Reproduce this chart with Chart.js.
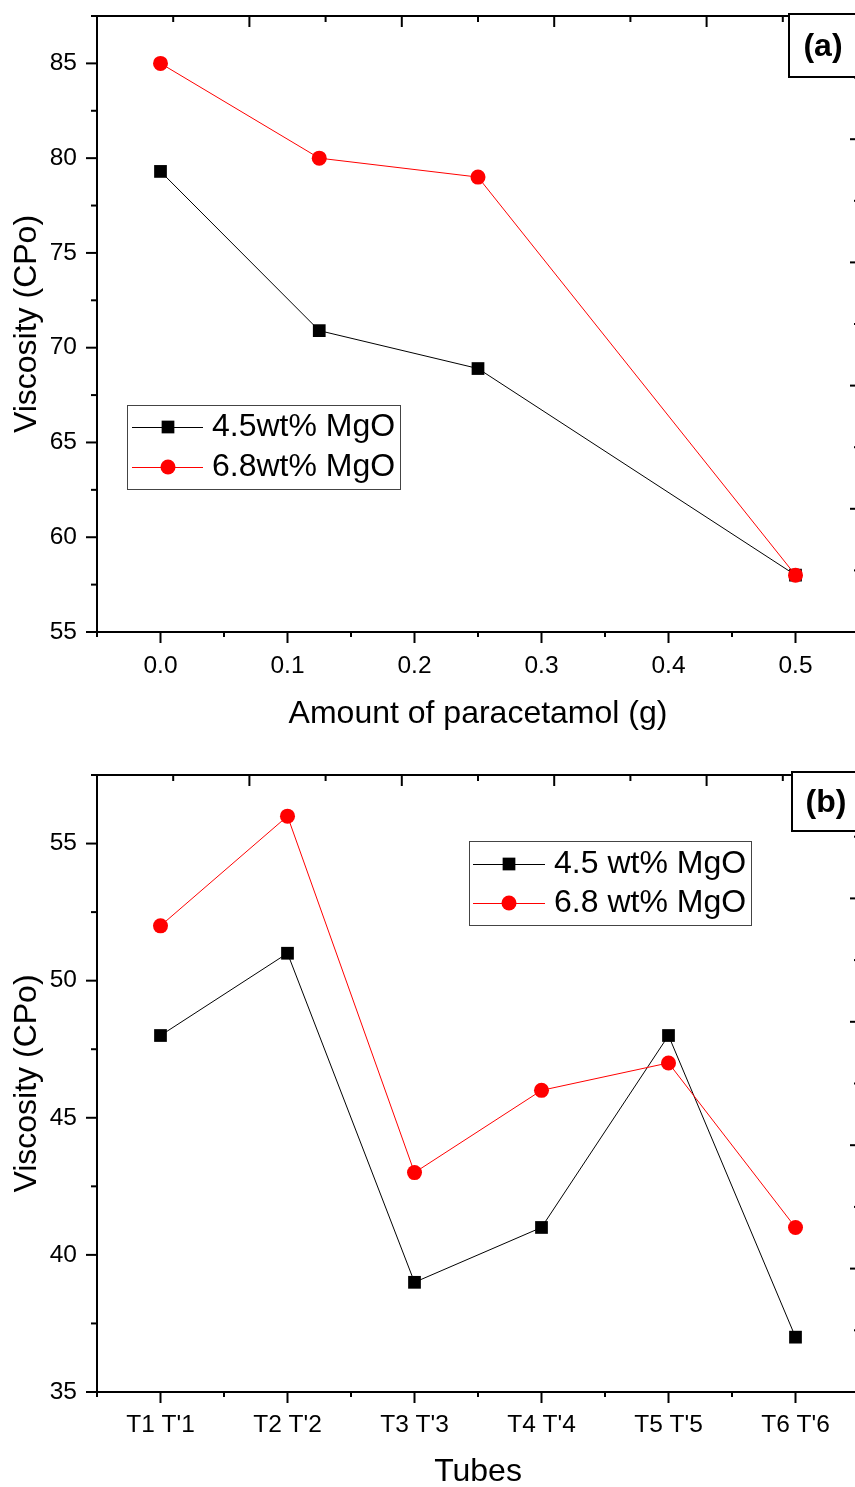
<!DOCTYPE html>
<html>
<head>
<meta charset="utf-8">
<script src="https://cdn.jsdelivr.net/npm/chart.js@4.4.1/dist/chart.umd.min.js"></script>
<style>
  html, body { margin: 0; padding: 0; background: #fff; }
  #page { width: 855px; height: 1487px; overflow: hidden; position: relative; }
  .box { position: absolute; left: 0; width: 900px; }
  #boxA { top: 0; height: 740px; }
  #boxB { top: 740px; height: 747px; }
</style>
</head>
<body>
<div id="page">
  <div class="box" id="boxA"><canvas id="chartA"></canvas></div>
  <div class="box" id="boxB"><canvas id="chartB"></canvas></div>
</div>
<script>
// (a) viscosity vs amount of paracetamol
const paracetamol = [0, 0.125, 0.25, 0.5];
const viscA45 = [79.3, 70.9, 68.9, 58.0];
const viscA68 = [85.0, 80.0, 79.0, 58.0];
const xTicksA = [0, 0.1, 0.2, 0.3, 0.4, 0.5];
const yTicksA = [55, 60, 65, 70, 75, 80, 85];

// (b) viscosity per tube
const tubes = ["T1 T'1", "T2 T'2", "T3 T'3", "T4 T'4", "T5 T'5", "T6 T'6"];
const viscB45 = [48, 51, 39, 41, 48, 37];
const viscB68 = [52, 56, 43, 46, 47, 41];
const yTicksB = [35, 40, 45, 50, 55];

const FONT = "'Liberation Sans', Arial, sans-serif";
Chart.defaults.font.family = FONT;
Chart.defaults.color = '#000';

const tickFont = { size: 24.5 };
const titleFont = { size: 32, lineHeight: 1 };

// frame + inward/outward tick marks (minor ticks too)
const framePlugin = {
  id: 'frame',
  afterDraw(chart, args, opts) {
    const { ctx, chartArea: a, scales } = chart;
    ctx.save();
    ctx.strokeStyle = '#000';
    ctx.lineWidth = 2;
    ctx.strokeRect(a.left, a.top, a.right - a.left, a.bottom - a.top);
    const line = (x1, y1, x2, y2) => { ctx.beginPath(); ctx.moveTo(x1, y1); ctx.lineTo(x2, y2); ctx.stroke(); };
    const steps = (from, to, step) => {
      const out = [];
      const n = Math.round((to - from) / step);
      for (let i = 0; i <= n; i++) out.push(from + i * step);
      return out;
    };
    const isMajor = (v, m) => Math.abs(v / m - Math.round(v / m)) < 1e-6;

    // left
    steps(opts.y.min, opts.y.max, opts.y.minor).forEach(v => {
      const p = scales.y.getPixelForValue(v);
      const len = isMajor(v, opts.y.major) ? 11 : 6;
      line(a.left - len, p, a.left, p);
    });
    // bottom
    steps(opts.x.min, opts.x.max, opts.x.minor).forEach(v => {
      const p = scales.x.getPixelForValue(v);
      const len = isMajor(v, opts.x.major) ? 11 : 5;
      line(p, a.bottom, p, a.bottom + len);
    });
    // top (inward)
    steps(0, 10, 1).forEach(v => {
      const p = scales.x2.getPixelForValue(v);
      const len = v % 2 === 0 ? 11 : 6;
      line(p, a.top, p, a.top + len);
    });
    // right (inward)
    steps(0, 10, 1).forEach(v => {
      const p = scales.y2.getPixelForValue(v);
      const len = v % 2 === 0 ? 9 : 5;
      line(a.right - len, p, a.right, p);
    });
    ctx.restore();
  }
};

const legendPlugin = {
  id: 'boxLegend',
  afterDraw(chart, args, o) {
    const { ctx } = chart;
    ctx.save();
    ctx.strokeStyle = '#444';
    ctx.lineWidth = 1;
    ctx.strokeRect(o.x + 0.5, o.y + 0.5, o.w, o.h);
    chart.data.datasets.forEach((ds, i) => {
      const y = o.rows[i];
      ctx.strokeStyle = ds.borderColor;
      ctx.lineWidth = 1;
      ctx.beginPath(); ctx.moveTo(o.lineFrom, y + 0.5); ctx.lineTo(o.lineTo, y + 0.5); ctx.stroke();
      ctx.fillStyle = ds.pointBackgroundColor;
      Chart.helpers.drawPoint(ctx, { pointStyle: ds.pointStyle, radius: ds.pointRadius, borderWidth: 0, rotation: 0 }, o.markX, y);
      ctx.fillStyle = '#000';
      ctx.font = `32px ${FONT}`;
      ctx.textAlign = 'left';
      ctx.textBaseline = 'middle';
      ctx.fillText(ds.label, o.textX, y);
    });
    ctx.restore();
  }
};

const panelPlugin = {
  id: 'panelTag',
  afterDraw(chart, args, o) {
    const { ctx } = chart;
    ctx.save();
    ctx.fillStyle = '#fff';
    ctx.fillRect(o.x, o.y, 120, o.h);
    ctx.strokeStyle = '#000';
    ctx.lineWidth = 2;
    ctx.strokeRect(o.x, o.y, 120, o.h);
    ctx.fillStyle = '#000';
    ctx.font = `bold 32px ${FONT}`;
    ctx.textAlign = 'center';
    ctx.textBaseline = 'alphabetic';
    ctx.fillText(o.text, o.cx, o.base);
    ctx.restore();
  }
};

function series(label, data, color, style, radius, order) {
  return {
    label, data, order,
    borderColor: color, borderWidth: 1,
    pointStyle: style, pointRadius: radius, pointHoverRadius: radius,
    pointBackgroundColor: color, pointBorderColor: color, pointBorderWidth: 0,
    tension: 0, fill: false
  };
}

function hiddenScales() {
  return {
    x2: { type: 'linear', position: 'top', display: false, min: 0, max: 10 },
    y2: { type: 'linear', position: 'right', display: false, min: 0, max: 10 }
  };
}

function fixY(s) {
  s.width = 97;
  s.paddingTop = 0;
  s.paddingBottom = 0;
}

new Chart(document.getElementById('chartA'), {
  type: 'line',
  data: {
    datasets: [
      series('4.5wt% MgO', paracetamol.map((x, i) => ({ x, y: viscA45[i] })), '#000000', 'rect', 9, 1),
      series('6.8wt% MgO', paracetamol.map((x, i) => ({ x, y: viscA68[i] })), '#ff0000', 'circle', 7.5, 0)
    ]
  },
  options: {
    responsive: true,
    maintainAspectRatio: false,
    animation: false,
    layout: { padding: { top: 16, right: 41, left: 0, bottom: 0 } },
    plugins: {
      legend: { display: false },
      tooltip: { enabled: false },
      frame: { y: { min: 55, max: 87.5, minor: 2.5, major: 5 }, x: { min: -0.05, max: 0.55, minor: 0.05, major: 0.1 } },
      boxLegend: { x: 127, y: 405, w: 273, h: 84, rows: [427, 467], lineFrom: 132, lineTo: 203, markX: 168, textX: 212 },
      panelTag: { x: 789, y: 14, h: 63, text: '(a)', cx: 823, base: 56 }
    },
    scales: {
      x: {
        type: 'linear', position: 'bottom', min: -0.05, max: 0.55,
        afterBuildTicks: s => { s.ticks = xTicksA.map(v => ({ value: v })); },
        afterFit: s => { s.height = 740 - 632; },
        grid: { display: false, drawTicks: false }, border: { display: false },
        ticks: { font: tickFont, padding: 20, maxRotation: 0, autoSkip: false, callback: v => v.toFixed(1) },
        title: { display: true, text: 'Amount of paracetamol (g)', font: titleFont, padding: { top: 0, bottom: 10 } }
      },
      y: {
        type: 'linear', position: 'left', min: 55, max: 87.5,
        afterBuildTicks: s => { s.ticks = yTicksA.map(v => ({ value: v })); },
        afterFit: fixY,
        grid: { display: false, drawTicks: false }, border: { display: false },
        ticks: { font: tickFont, padding: 20 },
        title: { display: true, text: 'Viscosity (CPo)', font: titleFont, padding: { top: 11, bottom: 0 } }
      },
      ...hiddenScales()
    }
  },
  plugins: [framePlugin, legendPlugin, panelPlugin]
});

new Chart(document.getElementById('chartB'), {
  type: 'line',
  data: {
    labels: tubes,
    datasets: [
      series('4.5 wt% MgO', viscB45, '#000000', 'rect', 9, 1),
      series('6.8 wt% MgO', viscB68, '#ff0000', 'circle', 7.5, 0)
    ]
  },
  options: {
    responsive: true,
    maintainAspectRatio: false,
    animation: false,
    layout: { padding: { top: 35, right: 41, left: 0, bottom: 0 } },
    plugins: {
      legend: { display: false },
      tooltip: { enabled: false },
      frame: { y: { min: 35, max: 57.5, minor: 2.5, major: 5 }, x: { min: -0.5, max: 5.5, minor: 0.5, major: 1 } },
      boxLegend: { x: 469, y: 101, w: 282, h: 84, rows: [124, 163], lineFrom: 473, lineTo: 545, markX: 509, textX: 554 },
      panelTag: { x: 792, y: 32, h: 59, text: '(b)', cx: 826, base: 72 }
    },
    scales: {
      x: {
        type: 'category', position: 'bottom', offset: true,
        afterFit: s => { s.height = 747 - 652; },
        grid: { display: false, drawTicks: false, offset: true }, border: { display: false },
        ticks: { font: tickFont, padding: 19, maxRotation: 0, autoSkip: false },
        title: { display: true, text: 'Tubes', font: titleFont, padding: { top: 0, bottom: -1 } }
      },
      y: {
        type: 'linear', position: 'left', min: 35, max: 57.5,
        afterBuildTicks: s => { s.ticks = yTicksB.map(v => ({ value: v })); },
        afterFit: fixY,
        grid: { display: false, drawTicks: false }, border: { display: false },
        ticks: { font: tickFont, padding: 20 },
        title: { display: true, text: 'Viscosity (CPo)', font: titleFont, padding: { top: 11, bottom: 0 } }
      },
      ...hiddenScales()
    }
  },
  plugins: [framePlugin, legendPlugin, panelPlugin]
});
</script>
</body>
</html>
